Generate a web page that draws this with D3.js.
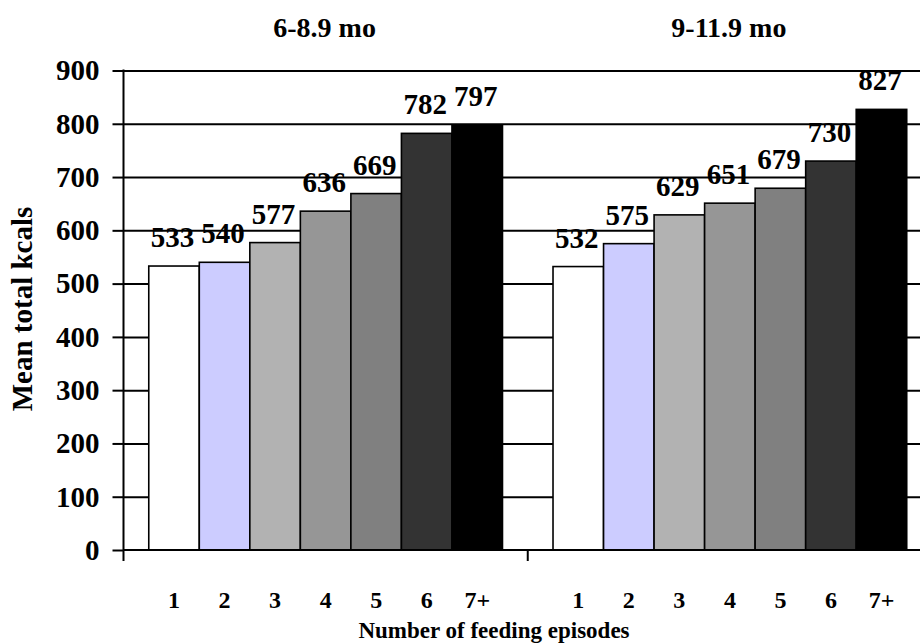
<!DOCTYPE html>
<html>
<head>
<meta charset="utf-8">
<script src="https://cdn.jsdelivr.net/npm/d3@7"></script>
<style>
  html, body { margin: 0; padding: 0; background: #ffffff; }
  svg { display: block; }
</style>
</head>
<body>
<svg id="chart" width="920" height="643"></svg>
<script>
// Age groups and feeding-episode categories
const groups = ["6-8.9 mo", "9-11.9 mo"];
const episodes = ["1", "2", "3", "4", "5", "6", "7+"];

// Mean total kcals per episode count, one array per age group
const kcals_6to9 = [533, 540, 577, 636, 669, 782, 797];
const kcals_9to12 = [532, 575, 629, 651, 679, 730, 827];
const seriesValues = [kcals_6to9, kcals_9to12];

// Y axis ticks
const yTicks = [0, 100, 200, 300, 400, 500, 600, 700, 800, 900];

// Fill per episode count
const barColors = ["#ffffff", "#ccccff", "#b2b2b2", "#969696", "#808080", "#333333", "#000000"];

const FONT = "Liberation Serif";
const svg = d3.select("#chart");

// Bold serif text helper
function styleText(sel, size) {
  return sel.style("font-family", FONT)
    .style("font-weight", "bold")
    .style("font-size", size + "px")
    .style("fill", "#000");
}

const plotLeft = 123.5, plotRight = 932, plotTop = 70.5, plotBottom = 550;

const x0 = d3.scaleBand().domain(groups).range([plotLeft, plotRight]).paddingInner(0).paddingOuter(0);
const x1 = d3.scaleBand().domain(episodes).range([0, x0.bandwidth()]).paddingInner(0).paddingOuter(0.5);
const y = d3.scaleLinear().domain([0, 900]).range([plotBottom, plotTop]);
const color = d3.scaleOrdinal().domain(episodes).range(barColors);

// Horizontal gridlines
svg.append("g")
  .attr("transform", `translate(${plotLeft},0)`)
  .call(d3.axisLeft(y).tickValues(yTicks.filter(v => v > 0)).tickSize(-(plotRight - plotLeft)).tickFormat(""))
  .call(g => g.select(".domain").remove())
  .call(g => g.selectAll("line").attr("stroke", "#000").attr("stroke-width", 2));

// Bars
const rows = groups.map((g, gi) => episodes.map((e, i) => ({ group: g, episode: e, value: seriesValues[gi][i] })));

const groupSel = svg.append("g").selectAll("g")
  .data(rows)
  .join("g")
  .attr("transform", d => `translate(${x0(d[0].group)},0)`);

groupSel.selectAll("rect")
  .data(d => d)
  .join("rect")
  .attr("x", d => x1(d.episode))
  .attr("y", d => y(d.value))
  .attr("width", x1.bandwidth())
  .attr("height", d => y(0) - y(d.value))
  .attr("fill", d => color(d.episode))
  .attr("stroke", "#000")
  .attr("stroke-width", 1.6);

// Value labels above bars
groupSel.selectAll("text.value")
  .data(d => d)
  .join("text")
  .attr("class", "value")
  .attr("x", d => x1(d.episode) + x1.bandwidth() / 2 - 1.5)
  .attr("y", d => y(d.value) - 19)
  .attr("text-anchor", "middle")
  .call(styleText, 29)
  .text(d => d.value);

// Episode labels under bars
groupSel.selectAll("text.cat")
  .data(d => d)
  .join("text")
  .attr("class", "cat")
  .attr("x", d => x1(d.episode) + x1.bandwidth() / 2)
  .attr("y", 608)
  .attr("text-anchor", "middle")
  .call(styleText, 24)
  .text(d => d.episode);

// Y axis with tick labels
svg.append("g")
  .attr("transform", `translate(${plotLeft},0)`)
  .call(d3.axisLeft(y).tickValues(yTicks).tickSize(11).tickPadding(13))
  .attr("font-family", null)
  .call(g => g.select(".domain").remove())
  .call(g => g.selectAll("line").attr("stroke", "#000").attr("stroke-width", 2))
  .call(g => g.selectAll("text").call(styleText, 29));

// Vertical axis line, running a little below the baseline
svg.append("line")
  .attr("x1", plotLeft).attr("x2", plotLeft)
  .attr("y1", plotTop - 1).attr("y2", plotBottom + 11)
  .attr("stroke", "#000").attr("stroke-width", 2);

// Baseline
svg.append("line")
  .attr("x1", plotLeft).attr("x2", plotRight)
  .attr("y1", y(0)).attr("y2", y(0))
  .attr("stroke", "#000").attr("stroke-width", 2);

// Group boundary ticks below the baseline
svg.append("g").selectAll("line")
  .data(groups.slice(1))
  .join("line")
  .attr("x1", d => x0(d)).attr("x2", d => x0(d))
  .attr("y1", y(0)).attr("y2", y(0) + 11)
  .attr("stroke", "#000").attr("stroke-width", 2);

// Group titles
svg.append("g").selectAll("text")
  .data(groups)
  .join("text")
  .attr("x", d => x0(d) + x0.bandwidth() / 2 - 1)
  .attr("y", 36.5)
  .attr("text-anchor", "middle")
  .call(styleText, 28)
  .text(d => d);

// Axis titles
svg.append("text")
  .attr("x", 494)
  .attr("y", 638)
  .attr("text-anchor", "middle")
  .call(styleText, 23)
  .text("Number of feeding episodes");

svg.append("text")
  .attr("transform", "translate(32,309) rotate(-90)")
  .attr("text-anchor", "middle")
  .call(styleText, 29)
  .text("Mean total kcals");
</script>
</body>
</html>
